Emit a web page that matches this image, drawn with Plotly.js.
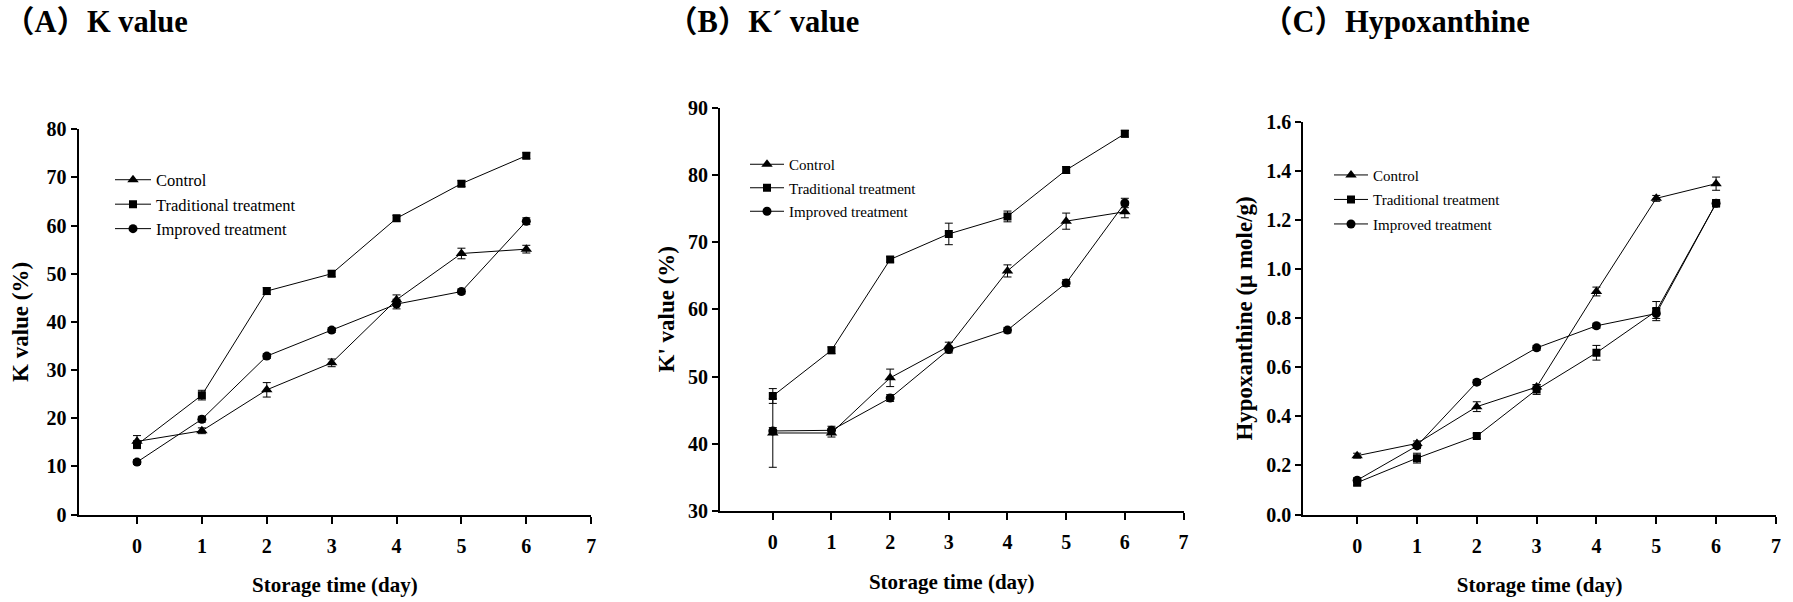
<!DOCTYPE html>
<html>
<head>
<meta charset="utf-8">
<script src="https://cdn.plot.ly/plotly-3.0.1.min.js"></script>
<style>html,body{margin:0;padding:0;background:#fff;}#chart{width:1793px;height:602px;}</style>
</head>
<body>
<div id="chart"></div>
<script>
// ---- data ----
const days = [0, 1, 2, 3, 4, 5, 6];
const xTicks = [0, 1, 2, 3, 4, 5, 6, 7];
const seriesNames = ["Control", "Traditional treatment", "Improved treatment"];

// (A) K value (%)
const kControl      = [15.2, 17.4, 25.9, 31.5, 44.6, 54.2, 55.1];
const kControlErr   = [1.2, 0.6, 1.5, 0.8, 1.0, 1.1, 0.8];
const kTraditional  = [14.5, 24.8, 46.4, 50.0, 61.5, 68.7, 74.5];
const kTraditionalErr = [0.8, 1.0, 0.7, 0.6, 0.6, 0.6, 0.6];
const kImproved     = [10.9, 19.8, 32.9, 38.3, 43.7, 46.3, 60.9];
const kImprovedErr  = [0.5, 0.6, 0.5, 0.5, 1.0, 0.5, 0.7];

// (B) K' value (%)
const kpControl      = [41.6, 41.6, 49.8, 54.5, 65.7, 73.1, 74.5];
const kpControlErr   = [5.1, 0.6, 1.3, 0.6, 0.9, 1.2, 0.9];
const kpTraditional  = [47.1, 53.9, 67.4, 71.2, 73.8, 80.7, 86.1];
const kpTraditionalErr = [1.1, 0.5, 0.4, 1.6, 0.8, 0.5, 0.5];
const kpImproved     = [41.9, 42.0, 46.8, 54.0, 56.9, 63.9, 75.8];
const kpImprovedErr  = [0.5, 0.6, 0.5, 0.5, 0.4, 0.5, 0.7];

// (C) Hypoxanthine (umole/g)
const hxControl      = [0.24, 0.29, 0.44, 0.52, 0.91, 1.29, 1.35];
const hxControlErr   = [0.01, 0.01, 0.02, 0.01, 0.018, 0.012, 0.027];
const hxTraditional  = [0.13, 0.23, 0.32, 0.51, 0.66, 0.83, 1.27];
const hxTraditionalErr = [0.01, 0.02, 0.01, 0.02, 0.03, 0.039, 0.015];
const hxImproved     = [0.14, 0.28, 0.54, 0.68, 0.77, 0.82, 1.27];
const hxImprovedErr  = [0.01, 0.01, 0.01, 0.01, 0.01, 0.02, 0.01];

const panelTitles = ["（A）K value", "（B）K´ value", "（C）Hypoxanthine"];
const yTitles = ["K value (%)", "K' value (%)", "Hypoxanthine (μ mole/g)"];
const xTitle = "Storage time (day)";

// ---- styles ----
const SERIF = "Liberation Serif, 'Noto Sans CJK SC', serif";
const symbols = ["triangle-up", "square", "circle"];
const symSizes = [10, 8, 9];

function mk(y, err, idx, xa, ya, leg) {
  return {
    x: days, y: y, type: "scatter", mode: "lines+markers",
    name: seriesNames[idx], xaxis: xa, yaxis: ya, legend: leg,
    legendgroup: leg + idx,
    line: {color: "#000", width: 1},
    marker: {symbol: symbols[idx], size: symSizes[idx], color: "#000"},
    error_y: {type: "data", array: err, visible: true, color: "#000", thickness: 1, width: 4}
  };
}

const traces = [
  mk(kControl, kControlErr, 0, "x", "y", "legend"),
  mk(kTraditional, kTraditionalErr, 1, "x", "y", "legend"),
  mk(kImproved, kImprovedErr, 2, "x", "y", "legend"),
  mk(kpControl, kpControlErr, 0, "x2", "y2", "legend2"),
  mk(kpTraditional, kpTraditionalErr, 1, "x2", "y2", "legend2"),
  mk(kpImproved, kpImprovedErr, 2, "x2", "y2", "legend2"),
  mk(hxControl, hxControlErr, 0, "x3", "y3", "legend3"),
  mk(hxTraditional, hxTraditionalErr, 1, "x3", "y3", "legend3"),
  mk(hxImproved, hxImprovedErr, 2, "x3", "y3", "legend3")
];

const W = 1793, H = 602;
function px(v) { return v / W; }
function py(v) { return 1 - v / H; }

function xAxis(l, r, anchor) {
  return {
    domain: [px(l), px(r)], anchor: anchor, range: [-0.9, 7],
    tickvals: xTicks, ticktext: xTicks.map(String),
    showline: true, linewidth: 2, linecolor: "#000",
    ticks: "outside", ticklen: 7, tickwidth: 2, tickcolor: "#000",
    ticklabelstandoff: 5,
    showgrid: false, zeroline: false, fixedrange: true,
    tickfont: {family: SERIF, size: 20, weight: "bold", color: "#000"},
    title: {text: xTitle, standoff: 22, font: {family: SERIF, size: 21, weight: "bold", color: "#000"}}
  };
}
function yAxis(b, t, anchor, range, dtick, fmt, title, standoff) {
  return {
    domain: [py(b), py(t)], anchor: anchor, range: range,
    tick0: range[0], dtick: dtick, tickformat: fmt,
    showline: true, linewidth: 2, linecolor: "#000",
    ticks: "outside", ticklen: 6, tickwidth: 2, tickcolor: "#000",
    ticklabelstandoff: 0,
    showgrid: false, zeroline: false, fixedrange: true,
    tickfont: {family: SERIF, size: 20, weight: "bold", color: "#000"},
    title: {text: title, standoff: standoff, font: {family: SERIF, size: 23, weight: "bold", color: "#000"}}
  };
}

function legendAt(xPx, yPx, size, gap, itemw) {
  return {
    x: px(xPx), y: py(yPx), xanchor: "left", yanchor: "top",
    bgcolor: "rgba(0,0,0,0)", borderwidth: 0,
    traceorder: "grouped", tracegroupgap: gap, itemwidth: itemw,
    font: {family: SERIF, size: size, color: "#000"}
  };
}

function titleAnn(text, xPx) {
  return {text: text, x: px(xPx), y: py(22), xref: "paper", yref: "paper",
    xanchor: "left", yanchor: "middle", showarrow: false,
    font: {family: SERIF, size: 30.5, weight: "bold", color: "#000"}};
}

const layout = {
  width: W, height: H,
  margin: {l: 0, r: 0, t: 0, b: 0},
  paper_bgcolor: "#fff", plot_bgcolor: "#fff",
  showlegend: true,
  font: {family: SERIF, color: "#000"},
  xaxis: xAxis(78.6, 591.2, "y"),
  yaxis: yAxis(514.6, 129.2, "x", [0, 80], 10, "d", yTitles[0], 12),
  xaxis2: xAxis(720, 1183.5, "y2"),
  yaxis2: yAxis(511, 107.5, "x2", [30, 90], 10, "d", yTitles[1], 7),
  xaxis3: xAxis(1303.3, 1775.9, "y3"),
  yaxis3: yAxis(514.5, 122.4, "x3", [0, 1.6], 0.2, ".1f", yTitles[2], 7),
  legend: legendAt(110, 162.5, 16.5, 0, 36),
  legend2: legendAt(745, 148, 15, 1, 34),
  legend3: legendAt(1329, 158.7, 15, 2, 34),
  annotations: [
    titleAnn(panelTitles[0], 2),
    titleAnn(panelTitles[1], 665),
    titleAnn(panelTitles[2], 1260)
  ]
};

Plotly.newPlot("chart", traces, layout, {staticPlot: true, displayModeBar: false});
</script>
</body>
</html>
